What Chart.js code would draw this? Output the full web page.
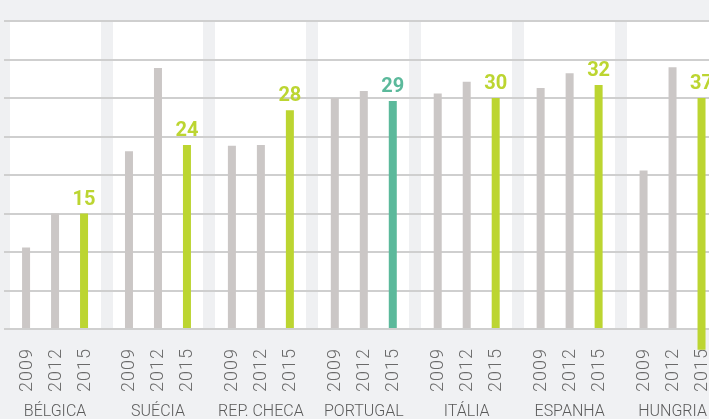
<!DOCTYPE html>
<html>
<head>
<meta charset="utf-8">
<script src="https://cdn.jsdelivr.net/npm/chart.js@4"></script>
<style>
  html, body { margin: 0; padding: 0; background: #f0f1f3; overflow: hidden; }
  #wrap { position: absolute; left: 0; top: 0; width: 724px; height: 419px; }
</style>
</head>
<body>
<div id="wrap"><canvas id="c" width="724" height="419"></canvas></div>
<script>
// ---- data ----
const countries = ['BÉLGICA', 'SUÉCIA', 'REP. CHECA', 'PORTUGAL', 'ITÁLIA', 'ESPANHA', 'HUNGRIA'];
const years = ['2009', '2012', '2015'];
const values2009 = [10.6, 23.1, 23.8, 30.0, 30.6, 31.3, 20.6];
const values2012 = [15.0, 33.9, 23.9, 30.9, 32.1, 33.2, 34.0];
// Hungria 2015 bar is drawn in the reference as a floating bar reaching below the axis
const values2015 = [15.0, 23.9, 28.4, 29.6, 30.0, 31.7, [-2.7, 30.0]];
const labels2015 = ['15', '24', '28', '29', '30', '32', '37'];
const yTicksMax = 40;
const yTicksStep = 5;

const GREY = '#cbc7c6';
const LIME = '#bcd531';
const TEAL = '#5bb99b';
const FONT = "'Liberation Sans Narrow', 'Roboto', sans-serif";

const whiteArea = {
  id: 'whiteArea',
  beforeDraw(chart) {
    const { ctx, chartArea: a } = chart;
    ctx.save();
    ctx.fillStyle = '#ffffff';
    ctx.fillRect(a.left, a.top, a.right - a.left, a.bottom - a.top);
    ctx.restore();
  }
};

const yearLabels = {
  id: 'yearLabels',
  beforeDatasetsDraw(chart) {
    const { ctx, chartArea: a } = chart;
    ctx.save();
    ctx.font = "300 18px " + FONT;
    ctx.fillStyle = '#6a6a6a';
    ctx.textAlign = 'center';
    ctx.textBaseline = 'middle';
    if ('letterSpacing' in ctx) ctx.letterSpacing = '1px';
    chart.data.datasets.forEach((ds, di) => {
      const meta = chart.getDatasetMeta(di);
      meta.data.forEach(el => {
        ctx.save();
        ctx.translate(el.x + 1, a.bottom + 41);
        ctx.rotate(-Math.PI / 2);
        ctx.fillText(ds.label, 0, 0);
        ctx.restore();
      });
    });
    ctx.restore();
  }
};

const valueLabels = {
  id: 'valueLabels',
  afterDatasetsDraw(chart) {
    const { ctx } = chart;
    const di = 2;
    const meta = chart.getDatasetMeta(di);
    ctx.save();
    ctx.font = "bold 20px " + FONT;
    ctx.textAlign = 'center';
    ctx.textBaseline = 'alphabetic';
    meta.data.forEach((el, i) => {
      ctx.fillStyle = countries[i] === 'PORTUGAL' ? TEAL : LIME;
      ctx.fillText(labels2015[i], el.x, el.y - 9);
    });
    ctx.restore();
  }
};

new Chart(document.getElementById('c'), {
  type: 'bar',
  data: {
    labels: countries,
    datasets: [
      { label: years[0], data: values2009, backgroundColor: GREY },
      { label: years[1], data: values2012, backgroundColor: GREY },
      { label: years[2], data: values2015, clip: false,
        backgroundColor: ctx => countries[ctx.dataIndex] === 'PORTUGAL' ? TEAL : LIME }
    ]
  },
  options: {
    responsive: false,
    animation: false,
    events: [],
    layout: { padding: { left: 3.6, right: 0, top: 21, bottom: 0 } },
    datasets: { bar: { barPercentage: 0.276, categoryPercentage: 0.845, borderWidth: 0 } },
    plugins: { legend: { display: false }, tooltip: { enabled: false }, title: { display: false } },
    scales: {
      x: {
        grid: { offset: true, color: '#eff0f2', lineWidth: 12, drawTicks: false },
        border: { display: false },
        ticks: { color: '#5a5a5a', font: { family: FONT, size: 16, weight: '300' }, padding: 73, maxRotation: 0, autoSkip: false },
        afterFit: s => { s.height = 90; s.paddingLeft = 0; s.paddingRight = 0; }
      },
      y: {
        min: 0, max: yTicksMax,
        grid: { color: '#cfcfcf', lineWidth: 2, drawTicks: false },
        border: { display: false },
        ticks: { display: false, stepSize: yTicksStep },
        afterFit: s => { s.width = 0; s.paddingTop = 0; s.paddingBottom = 0; }
      }
    }
  },
  plugins: [whiteArea, yearLabels, valueLabels]
});
</script>
</body>
</html>
